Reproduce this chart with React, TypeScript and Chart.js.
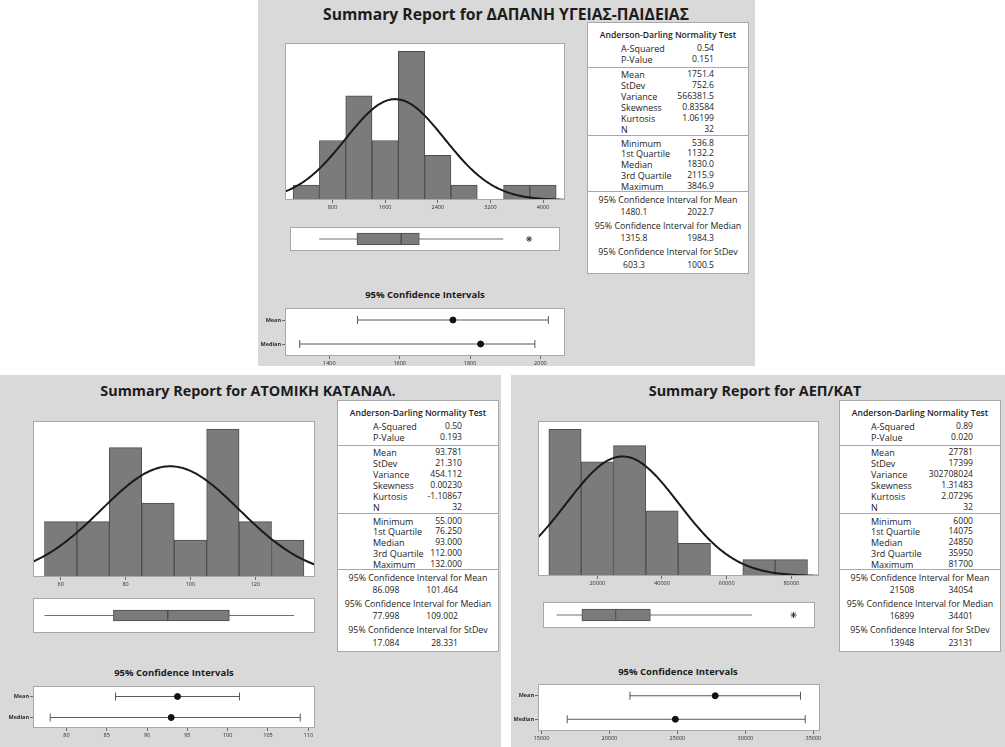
import React, { useEffect, useRef } from "react";
import { Chart, registerables } from "chart.js";
Chart.register(...registerables);

const FONT = "'Open Sans', 'Noto Sans', sans-serif";
const BG = "#d9d9d9";
const FRAME = "#a8a8a8";
const BAR_FILL = "#7b7b7b";
const BAR_EDGE = "#4e4e4e";
const AXIS_H = 12;

// ---------------- Report 1: ΔΑΠΑΝΗ ΥΓΕΙΑΣ-ΠΑΙΔΕΙΑΣ ----------------
const r1Title = "Summary Report for ΔΑΠΑΝΗ ΥΓΕΙΑΣ-ΠΑΙΔΕΙΑΣ";
const r1BinCenters = [400, 800, 1200, 1600, 2000, 2400, 2800, 3200, 3600, 4000];
const r1Counts = [1, 4, 7, 4, 10, 3, 1, 0, 1, 1];
const r1BinWidth = 400;
const r1HistTicks = [800, 1600, 2400, 3200, 4000];
const r1Mean = 1751.4;
const r1StDev = 752.6;
const r1N = 32;
const r1BoxStats = [536.8, 1132.2, 1830.0, 2115.9, 3440]; // whisker low, Q1, median, Q3, whisker high
const r1Outliers = [3846.9];
const r1CiMean = [1480.1, 1751.4, 2022.7];
const r1CiMedian = [1315.8, 1830.0, 1984.3];
const r1CiTicks = [1400, 1600, 1800, 2000];
const r1Ad = ["0.54", "0.151"];
const r1Moments = ["1751.4", "752.6", "566381.5", "0.83584", "1.06199", "32"];
const r1Quantiles = ["536.8", "1132.2", "1830.0", "2115.9", "3846.9"];
const r1CiText = [["1480.1", "2022.7"], ["1315.8", "1984.3"], ["603.3", "1000.5"]];

// ---------------- Report 2: ΑΤΟΜΙΚΗ ΚΑΤΑΝΑΛ. ----------------
const r2Title = "Summary Report for ΑΤΟΜΙΚΗ ΚΑΤΑΝΑΛ.";
const r2BinCenters = [60, 70, 80, 90, 100, 110, 120, 130];
const r2Counts = [3, 3, 7, 4, 2, 8, 3, 2];
const r2BinWidth = 10;
const r2HistTicks = [60, 80, 100, 120];
const r2Mean = 93.781;
const r2StDev = 21.31;
const r2N = 32;
const r2BoxStats = [55, 76.25, 93, 112, 132];
const r2Outliers: number[] = [];
const r2CiMean = [86.098, 93.781, 101.464];
const r2CiMedian = [77.998, 93.0, 109.002];
const r2CiTicks = [80, 85, 90, 95, 100, 105, 110];
const r2Ad = ["0.50", "0.193"];
const r2Moments = ["93.781", "21.310", "454.112", "0.00230", "-1.10867", "32"];
const r2Quantiles = ["55.000", "76.250", "93.000", "112.000", "132.000"];
const r2CiText = [["86.098", "101.464"], ["77.998", "109.002"], ["17.084", "28.331"]];

// ---------------- Report 3: ΑΕΠ/ΚΑΤ ----------------
const r3Title = "Summary Report for ΑΕΠ/ΚΑΤ";
const r3BinCenters = [10000, 20000, 30000, 40000, 50000, 60000, 70000, 80000];
const r3Counts = [9, 7, 8, 4, 2, 0, 1, 1];
const r3BinWidth = 10000;
const r3HistTicks = [20000, 40000, 60000, 80000];
const r3Mean = 27781;
const r3StDev = 17399;
const r3N = 32;
const r3BoxStats = [6000, 14075, 24850, 35950, 68400];
const r3Outliers = [81700];
const r3CiMean = [21508, 27781, 34054];
const r3CiMedian = [16899, 24850, 34401];
const r3CiTicks = [15000, 20000, 25000, 30000, 35000];
const r3Ad = ["0.89", "0.020"];
const r3Moments = ["27781", "17399", "302708024", "1.31483", "2.07296", "32"];
const r3Quantiles = ["6000", "14075", "24850", "35950", "81700"];
const r3CiText = [["21508", "34054"], ["16899", "34401"], ["13948", "23131"]];

// shared labels
const ciCategories = ["Mean", "Median"];
const adLabels = ["A-Squared", "P-Value"];
const momentLabels = ["Mean", "StDev", "Variance", "Skewness", "Kurtosis", "N"];
const quantileLabels = ["Minimum", "1st Quartile", "Median", "3rd Quartile", "Maximum"];
const ciHeaders = [
  "95% Confidence Interval for Mean",
  "95% Confidence Interval for Median",
  "95% Confidence Interval for StDev",
];

type Rect = { x: number; y: number; w: number; h: number };

const framePlugin = {
  id: "panelFrame",
  beforeDraw(chart: any) {
    const { ctx, chartArea: a } = chart;
    ctx.save();
    ctx.fillStyle = "#ffffff";
    ctx.fillRect(a.left, a.top, a.right - a.left, a.bottom - a.top);
    ctx.restore();
  },
  afterDraw(chart: any) {
    const { ctx, chartArea: a } = chart;
    ctx.save();
    ctx.strokeStyle = FRAME;
    ctx.lineWidth = 1;
    ctx.strokeRect(
      Math.round(a.left) + 0.5,
      Math.round(a.top) + 0.5,
      Math.round(a.right - a.left) - 1,
      Math.round(a.bottom - a.top) - 1
    );
    ctx.restore();
  },
};

function xAxis(min: number, max: number, ticks: number[]) {
  return {
    type: "linear",
    min,
    max,
    offset: false,
    afterBuildTicks: (a: any) => {
      a.ticks = ticks.map((v) => ({ value: v }));
    },
    afterFit: (a: any) => {
      a.height = AXIS_H;
      a.paddingLeft = 0;
      a.paddingRight = 0;
    },
    grid: { display: true, drawOnChartArea: false, drawTicks: true, tickLength: 3, color: "#6a6a6a", offset: false },
    border: { display: false },
    ticks: {
      font: { size: 5.5, family: FONT },
      color: "#2a2a2a",
      padding: 1,
      autoSkip: false,
      maxRotation: 0,
      minRotation: 0,
      callback: (v: any) => String(v),
    },
  };
}

const baseOptions = {
  animation: false,
  responsive: false,
  maintainAspectRatio: false,
  events: [],
  plugins: { legend: { display: false }, tooltip: { enabled: false }, title: { display: false } },
};

function histConfig(
  centers: number[], counts: number[], width: number, mean: number, sd: number, n: number,
  xMin: number, xMax: number, yMax: number, ticks: number[], pad: number
) {
  // fitted normal density (Minitab overlay) from the reported mean / StDev
  const curve: { x: number; y: number }[] = [];
  const steps = 160;
  const k = (n * width) / (sd * Math.sqrt(2 * Math.PI));
  for (let i = 0; i <= steps; i++) {
    const x = xMin + ((xMax - xMin) * i) / steps;
    const z = (x - mean) / sd;
    curve.push({ x, y: k * Math.exp(-0.5 * z * z) });
  }
  return {
    type: "bar",
    data: {
      datasets: [
        { type: "line", data: curve, borderColor: "#1a1a1a", borderWidth: 2, pointRadius: 0, tension: 0, order: 0 },
        {
          type: "bar",
          data: centers.map((c, i) => ({ x: c, y: counts[i] })),
          backgroundColor: BAR_FILL,
          borderColor: BAR_EDGE,
          borderWidth: 1,
          barPercentage: 1,
          categoryPercentage: 1,
          order: 1,
        },
      ],
    },
    options: {
      ...baseOptions,
      layout: { padding: { left: pad, right: pad, top: 0, bottom: 0 } },
      scales: {
        x: xAxis(xMin, xMax, ticks),
        y: { display: false, min: 0, max: yMax, offset: false },
      },
    },
    plugins: [framePlugin],
  };
}

function boxConfig(stats: number[], outliers: number[], xMin: number, xMax: number, thick: number) {
  const [wl, q1, med, q3, wh] = stats;
  return {
    type: "bar",
    data: {
      datasets: [
        {
          type: "line",
          data: outliers.map((v) => ({ x: v, y: 0 })),
          showLine: false,
          pointStyle: "star",
          pointRadius: 3,
          borderColor: "#3a3a3a",
          backgroundColor: "#3a3a3a",
          borderWidth: 1,
          order: 0,
        },
        {
          type: "bar", data: [{ x: [q1, med], y: 0 }], backgroundColor: BAR_FILL, borderColor: BAR_EDGE,
          borderWidth: 1, borderSkipped: false, barThickness: thick, grouped: false, order: 1,
        },
        {
          type: "bar", data: [{ x: [med, q3], y: 0 }], backgroundColor: BAR_FILL, borderColor: BAR_EDGE,
          borderWidth: 1, borderSkipped: false, barThickness: thick, grouped: false, order: 1,
        },
        {
          type: "line", data: [{ x: wl, y: 0 }, { x: wh, y: 0 }], borderColor: "#707070",
          borderWidth: 1, pointRadius: 0, order: 2,
        },
      ],
    },
    options: {
      ...baseOptions,
      indexAxis: "y",
      layout: { padding: 0 },
      scales: {
        x: { type: "linear", display: false, min: xMin, max: xMax, offset: false },
        y: { type: "linear", display: false, min: -1, max: 1, offset: false },
      },
    },
    plugins: [framePlugin],
  };
}

function ciDataset(vals: number[], cat: string) {
  return {
    data: vals.map((v) => ({ x: v, y: cat })),
    showLine: true,
    borderColor: "#5a5a5a",
    borderWidth: 1,
    pointStyle: ["line", "circle", "line"],
    pointRadius: [4, 3, 4],
    pointRotation: [90, 0, 90],
    pointBackgroundColor: ["#5a5a5a", "#111111", "#5a5a5a"],
    pointBorderColor: ["#5a5a5a", "#111111", "#5a5a5a"],
    pointBorderWidth: [1, 1, 1],
  };
}

function ciConfig(mean: number[], median: number[], xMin: number, xMax: number, ticks: number[], yW: number, pad: number) {
  return {
    type: "scatter",
    data: { datasets: [ciDataset(mean, ciCategories[0]), ciDataset(median, ciCategories[1])] },
    options: {
      ...baseOptions,
      layout: { padding: { left: 0, right: pad, top: 0, bottom: 0 } },
      scales: {
        x: xAxis(xMin, xMax, ticks),
        y: {
          type: "category",
          labels: ciCategories,
          offset: true,
          afterFit: (a: any) => {
            a.width = yW;
            a.paddingTop = 0;
            a.paddingBottom = 0;
          },
          grid: { display: true, drawOnChartArea: false, tickLength: 3, color: "#6a6a6a", offset: false },
          border: { display: false },
          ticks: { font: { size: 5.5, family: FONT, weight: "bold" }, color: "#2a2a2a", padding: 1 },
        },
      },
    },
    plugins: [framePlugin],
  };
}

function ChartBox({ rect, make }: { rect: Rect; make: () => any }) {
  const ref = useRef<HTMLCanvasElement>(null);
  useEffect(() => {
    const chart = new Chart(ref.current as HTMLCanvasElement, make());
    return () => chart.destroy();
  }, []);
  return (
    <canvas
      ref={ref}
      width={rect.w}
      height={rect.h}
      style={{ position: "absolute", left: rect.x, top: rect.y, width: rect.w, height: rect.h }}
    />
  );
}

function Txt(props: { x: number; y: number; text: string; align?: string; size?: number; weight?: number }) {
  const { x, y, text, align = "left", size = 9, weight = 400 } = props;
  const tx = align === "center" ? "-50%" : align === "right" ? "-100%" : "0";
  return (
    <div
      style={{
        position: "absolute",
        left: x,
        top: y,
        transform: `translate(${tx}, -50%)`,
        fontSize: size,
        fontWeight: weight,
        whiteSpace: "nowrap",
        lineHeight: 1,
        color: "#1c1c1c",
        fontFamily: FONT,
      }}
    >
      {text}
    </div>
  );
}

// row offsets inside a stats table (relative to its top)
const HDR_Y = 13;
const AD_Y = [26, 36.7];
const SEP_Y = [44.5, 113, 169];
const MOM_Y = [52, 63, 74, 85, 95.7, 106.7];
const QUA_Y = [120.7, 131.3, 142, 152.7, 163.7];
const CI_HDR_Y = [178, 204, 229.7];
const CI_VAL_Y = [189.7, 216.3, 243];
const TABLE_H = 252;

function StatsTable(p: {
  x: number; y: number; w: number; labelX: number; valueR: number; ciLeftC: number; ciRight: number;
  ad: string[]; moments: string[]; quantiles: string[]; ci: string[][];
}) {
  const items: any[] = [];
  const cx = p.x + p.w / 2;
  items.push(<Txt key="h" x={cx} y={p.y + HDR_Y} text="Anderson-Darling Normality Test" align="center" size={8.6} weight={600} />);
  adLabels.forEach((l, i) => {
    items.push(<Txt key={"al" + i} x={p.labelX} y={p.y + AD_Y[i]} text={l} />);
    items.push(<Txt key={"av" + i} x={p.valueR} y={p.y + AD_Y[i]} text={p.ad[i]} align="right" size={8.6} />);
  });
  momentLabels.forEach((l, i) => {
    items.push(<Txt key={"ml" + i} x={p.labelX} y={p.y + MOM_Y[i]} text={l} />);
    items.push(<Txt key={"mv" + i} x={p.valueR} y={p.y + MOM_Y[i]} text={p.moments[i]} align="right" size={8.6} />);
  });
  quantileLabels.forEach((l, i) => {
    items.push(<Txt key={"ql" + i} x={p.labelX} y={p.y + QUA_Y[i]} text={l} />);
    items.push(<Txt key={"qv" + i} x={p.valueR} y={p.y + QUA_Y[i]} text={p.quantiles[i]} align="right" size={8.6} />);
  });
  ciHeaders.forEach((l, i) => {
    items.push(<Txt key={"ch" + i} x={cx} y={p.y + CI_HDR_Y[i]} text={l} align="center" size={8.8} />);
    items.push(<Txt key={"c1" + i} x={p.ciLeftC} y={p.y + CI_VAL_Y[i]} text={p.ci[i][0]} align="center" size={8.6} />);
    items.push(<Txt key={"c2" + i} x={p.ciRight} y={p.y + CI_VAL_Y[i]} text={p.ci[i][1]} align="right" size={8.6} />);
  });
  SEP_Y.forEach((s, i) => {
    items.push(
      <div key={"s" + i} style={{ position: "absolute", left: p.x, top: p.y + s, width: p.w, height: 1, background: FRAME }} />
    );
  });
  return (
    <>
      <div
        style={{
          position: "absolute", left: p.x, top: p.y, width: p.w - 2, height: TABLE_H - 2,
          background: "#fff", border: `1px solid ${FRAME}`,
        }}
      />
      {items}
    </>
  );
}

type ReportProps = {
  bg: Rect; title: string; titleX: number; titleY: number; titleSize: number;
  hist: Rect; box: Rect; ci: Rect; ciTitleX: number; ciTitleY: number;
  xMin: number; xMax: number; yMax: number; ciMin: number; ciMax: number; yW: number; boxThick: number;
  centers: number[]; counts: number[]; binW: number; mean: number; sd: number; n: number; histTicks: number[];
  boxStats: number[]; outliers: number[]; ciMean: number[]; ciMedian: number[]; ciTicks: number[];
  table: { x: number; y: number; w: number; labelX: number; valueR: number; ciLeftC: number; ciRight: number };
  ad: string[]; moments: string[]; quantiles: string[]; ciText: string[][];
};

const PAD = 12;

function Report(r: ReportProps) {
  return (
    <>
      <div style={{ position: "absolute", left: r.bg.x, top: r.bg.y, width: r.bg.w, height: r.bg.h, background: BG }} />
      <Txt x={r.titleX} y={r.titleY} text={r.title} align="center" size={r.titleSize} weight={700} />
      <ChartBox
        rect={{ x: r.hist.x - PAD, y: r.hist.y, w: r.hist.w + 2 * PAD, h: r.hist.h + AXIS_H }}
        make={() => histConfig(r.centers, r.counts, r.binW, r.mean, r.sd, r.n, r.xMin, r.xMax, r.yMax, r.histTicks, PAD)}
      />
      <ChartBox rect={r.box} make={() => boxConfig(r.boxStats, r.outliers, r.xMin, r.xMax, r.boxThick)} />
      <Txt x={r.ciTitleX} y={r.ciTitleY} text="95% Confidence Intervals" align="center" size={9.5} weight={700} />
      <ChartBox
        rect={{ x: r.ci.x - r.yW, y: r.ci.y, w: r.ci.w + r.yW + PAD, h: r.ci.h + AXIS_H }}
        make={() => ciConfig(r.ciMean, r.ciMedian, r.ciMin, r.ciMax, r.ciTicks, r.yW, PAD)}
      />
      <StatsTable {...r.table} ad={r.ad} moments={r.moments} quantiles={r.quantiles} ci={r.ciText} />
    </>
  );
}

export default function App() {
  return (
    <div style={{ position: "fixed", left: 0, top: 0, width: 1005, height: 747, background: "#fff", overflow: "hidden", fontFamily: FONT }}>
      <Report
        bg={{ x: 258, y: 0, w: 497, h: 366 }} title={r1Title} titleX={506} titleY={15} titleSize={15.7}
        hist={{ x: 285, y: 43, w: 280, h: 157 }} box={{ x: 285, y: 222, w: 280, h: 34 }}
        ci={{ x: 285, y: 303, w: 280, h: 53 }} ciTitleX={425} ciTitleY={295}
        xMin={77} xMax={4334} yMax={10.56} ciMin={1274} ciMax={2070} yW={27} boxThick={12}
        centers={r1BinCenters} counts={r1Counts} binW={r1BinWidth} mean={r1Mean} sd={r1StDev} n={r1N}
        histTicks={r1HistTicks} boxStats={r1BoxStats} outliers={r1Outliers}
        ciMean={r1CiMean} ciMedian={r1CiMedian} ciTicks={r1CiTicks}
        table={{ x: 587, y: 22, w: 162, labelX: 621, valueR: 714, ciLeftC: 634, ciRight: 714 }}
        ad={r1Ad} moments={r1Moments} quantiles={r1Quantiles} ciText={r1CiText}
      />
      <Report
        bg={{ x: 0, y: 375, w: 501, h: 372 }} title={r2Title} titleX={248} titleY={391} titleSize={14.4}
        hist={{ x: 33, y: 421, w: 282, h: 156 }} box={{ x: 33, y: 598, w: 282, h: 35 }}
        ci={{ x: 33, y: 681, w: 282, h: 47 }} ciTitleX={174} ciTitleY={673}
        xMin={51.46} xMax={138.4} yMax={8.44} ciMin={75.86} ciMax={110.83} yW={33} boxThick={11}
        centers={r2BinCenters} counts={r2Counts} binW={r2BinWidth} mean={r2Mean} sd={r2StDev} n={r2N}
        histTicks={r2HistTicks} boxStats={r2BoxStats} outliers={r2Outliers}
        ciMean={r2CiMean} ciMedian={r2CiMedian} ciTicks={r2CiTicks}
        table={{ x: 337, y: 400, w: 162, labelX: 373, valueR: 462, ciLeftC: 386, ciRight: 458 }}
        ad={r2Ad} moments={r2Moments} quantiles={r2Quantiles} ciText={r2CiText}
      />
      <Report
        bg={{ x: 511, y: 375, w: 494, h: 372 }} title={r3Title} titleX={755} titleY={391} titleSize={14.4}
        hist={{ x: 538, y: 421, w: 281, h: 155 }} box={{ x: 538, y: 597, w: 282, h: 36 }}
        ci={{ x: 538, y: 679, w: 282, h: 52 }} ciTitleX={678} ciTitleY={672}
        xMin={1650} xMax={88557} yMax={9.51} ciMin={14749} ciMax={35487} yW={28} boxThick={12}
        centers={r3BinCenters} counts={r3Counts} binW={r3BinWidth} mean={r3Mean} sd={r3StDev} n={r3N}
        histTicks={r3HistTicks} boxStats={r3BoxStats} outliers={r3Outliers}
        ciMean={r3CiMean} ciMedian={r3CiMedian} ciTicks={r3CiTicks}
        table={{ x: 839, y: 400, w: 162, labelX: 871, valueR: 973, ciLeftC: 902, ciRight: 973 }}
        ad={r3Ad} moments={r3Moments} quantiles={r3Quantiles} ciText={r3CiText}
      />
    </div>
  );
}
